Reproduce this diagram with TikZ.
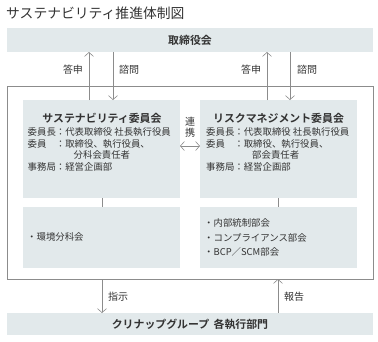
\documentclass[tikz,border=0pt]{standalone}
\usepackage{fontspec}
\setmainfont{Noto Sans CJK JP}[BoldFont={Noto Sans CJK JP Bold}]
\usetikzlibrary{arrows.meta}
\definecolor{boxfill}{HTML}{E2E9EB}
\definecolor{txt}{HTML}{333333}
\definecolor{ln}{HTML}{8C8C8C}
\tikzset{
  bar/.style={fill=boxfill, draw=none},
  frame/.style={draw=ln, line width=0.6pt},
  conn/.style={draw=ln, line width=0.6pt},
  arr/.style={conn, -{Straight Barb[length=4pt,width=9pt]}},
  darr/.style={conn, {Straight Barb[length=4pt,width=9pt]}-{Straight Barb[length=4pt,width=9pt]}},
  lbl/.style={text=txt, font=\fontsize{10}{11}\selectfont, inner sep=0pt},
  det/.style={text=txt, font=\fontsize{9.4}{11}\selectfont, inner sep=0pt, anchor=west},
  head/.style={text=txt, font=\bfseries\fontsize{10.9}{12}\selectfont, inner sep=0pt},
}
\begin{document}
\begin{tikzpicture}[x=1pt,y=-1pt]
\useasboundingbox (0,0) rectangle (378,341);
% title
\node[text=txt, font=\fontsize{13.8}{15}\selectfont, anchor=west, inner sep=0pt] (title) at (6,13) {サステナビリティ推進体制図};
% top bar
\path[bar] (7,28) rectangle (373,52);
\coordinate (topL1) at (89,52); \coordinate (topL2) at (113,52);
\coordinate (topR1) at (267,52); \coordinate (topR2) at (290,52);
\node[head] (board) at (190,40) {取締役会};
% outer frame
\draw[frame] (7,86) rectangle (373,279);
% committee boxes
\path[bar] (23,100) rectangle (180,198);
\path[bar] (200,100) rectangle (357,198);
\path[bar] (23,207) rectangle (180,268);
\path[bar] (200,207) rectangle (357,268);
\coordinate (cL1) at (89,100); \coordinate (cL2) at (113,100);
\coordinate (cR1) at (267,100); \coordinate (cR2) at (290,100);
\coordinate (cLb) at (102,198); \coordinate (sLt) at (102,207);
\coordinate (cRb) at (278,198); \coordinate (sRt) at (278,207);
\coordinate (cLr) at (180,146); \coordinate (cRl) at (200,146);
% bottom bar
\path[bar] (7,313) rectangle (373,335);
\node[head] (groups) at (190,324) {クリナップグループ\hspace{0.4em}各執行部門};
\coordinate (frB1) at (102,279); \coordinate (bar1) at (102,313);
\coordinate (frB2) at (278,279); \coordinate (bar2) at (278,313);

% connectors
\draw[arr] (cL1) -- (topL1);
\draw[arr] (topL2) -- (cL2);
\draw[arr] (cR1) -- (topR1);
\draw[arr] (topR2) -- (cR2);
\draw[conn] (cLb) -- (sLt);
\draw[conn] (cRb) -- (sRt);
\draw[darr] (cLr) -- (cRl);
\draw[arr] (frB1) -- (bar1);
\draw[arr] (bar2) -- (frB2);

% labels
\node[lbl] (a1) at (73,70) {答申};
\node[lbl] (q1) at (129,70) {諮問};
\node[lbl] (a2) at (251,70) {答申};
\node[lbl] (q2) at (307,70) {諮問};
\node[lbl] (link1) at (190,122) {連};
\node[lbl] (link2) at (190,133) {携};
\node[lbl] (inst) at (118,297) {指示};
\node[lbl] (rep) at (294,297) {報告};

% left committee
\node[head] (sc) at (102,118) {サステナビリティ委員会};
\node[det] (l1) at (27.5,132) {委員長：代表取締役 社長執行役員};
\node[det] (l2) at (27.5,143.5) {委員\hspace{1em}：取締役、執行役員、};
\node[det] (l3) at (73.5,155) {分科会責任者};
\node[det] (l4) at (27.5,166.5) {事務局：経営企画部};
% right committee
\node[head] (rc) at (278.5,118) {リスクマネジメント委員会};
\node[det] (r1) at (206,132) {委員長：代表取締役 社長執行役員};
\node[det] (r2) at (206,143.5) {委員\hspace{1em}：取締役、執行役員、};
\node[det] (r3) at (252,155) {部会責任者};
\node[det] (r4) at (206,166.5) {事務局：経営企画部};
% sub committees
\node[det] (s1) at (27,237) {・環境分科会};
\node[det] (s2) at (204,223) {・内部統制部会};
\node[det] (s3) at (204,237.5) {・コンプライアンス部会};
\node[det] (s4) at (204,252) {・BCP／SCM部会};
\end{tikzpicture}
\end{document}
